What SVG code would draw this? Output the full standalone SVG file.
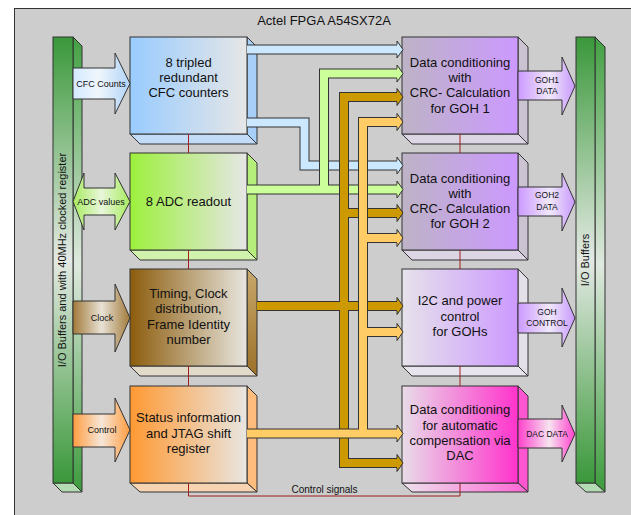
<svg xmlns="http://www.w3.org/2000/svg" width="631" height="515" viewBox="0 0 631 515">
<defs>
<linearGradient id="gBar" x1="0" y1="0" x2="0" y2="1"><stop offset="0" stop-color="#3a983a"/><stop offset="0.5" stop-color="#e4e9e4"/><stop offset="1" stop-color="#3a983a"/></linearGradient>
<linearGradient id="gBarS" x1="0" y1="0" x2="0" y2="1"><stop offset="0" stop-color="#42a042"/><stop offset="0.5" stop-color="#dfe8df"/><stop offset="1" stop-color="#3c9c3c"/></linearGradient>
<linearGradient id="gCFC" x1="0" y1="0" x2="1" y2="0"><stop offset="0" stop-color="#99ccff"/><stop offset="1" stop-color="#e6e6e6"/></linearGradient>
<linearGradient id="gADC" x1="0" y1="0" x2="1" y2="0"><stop offset="0" stop-color="#9cf03c"/><stop offset="1" stop-color="#e6e6e6"/></linearGradient>
<linearGradient id="gTim" x1="0" y1="0" x2="1" y2="0"><stop offset="0" stop-color="#8c5c0c"/><stop offset="1" stop-color="#e8e6e0"/></linearGradient>
<linearGradient id="gSta" x1="0" y1="0" x2="1" y2="0"><stop offset="0" stop-color="#ff9933"/><stop offset="1" stop-color="#e8e6e2"/></linearGradient>
<linearGradient id="gGOH" x1="0" y1="0" x2="1" y2="0"><stop offset="0" stop-color="#bdb3c6"/><stop offset="1" stop-color="#cc99ff"/></linearGradient>
<linearGradient id="gI2C" x1="0" y1="0" x2="1" y2="0"><stop offset="0" stop-color="#e6e2ea"/><stop offset="1" stop-color="#cc99ff"/></linearGradient>
<linearGradient id="gDAC" x1="0" y1="0" x2="1" y2="0"><stop offset="0" stop-color="#e8dce8"/><stop offset="1" stop-color="#ff33cc"/></linearGradient>
<linearGradient id="gDACb" x1="0" y1="0" x2="1" y2="0"><stop offset="0" stop-color="#ece2ec"/><stop offset="1" stop-color="#ff66d6"/></linearGradient>
<linearGradient id="gTimS" x1="0" y1="0" x2="0" y2="1"><stop offset="0" stop-color="#c8a86c"/><stop offset="1" stop-color="#9c7028"/></linearGradient>
<linearGradient id="aBlue" x1="0" y1="0" x2="1" y2="0"><stop offset="0" stop-color="#d4eaff"/><stop offset="0.45" stop-color="#f0f6fc"/><stop offset="1" stop-color="#b0d4f8"/></linearGradient>
<linearGradient id="aGreen" x1="0" y1="0" x2="1" y2="0"><stop offset="0" stop-color="#a8ec60"/><stop offset="0.5" stop-color="#e8f6da"/><stop offset="1" stop-color="#a8ec60"/></linearGradient>
<linearGradient id="aBrown" x1="0" y1="0" x2="1" y2="0"><stop offset="0" stop-color="#a27a3a"/><stop offset="0.5" stop-color="#e8e2d6"/><stop offset="1" stop-color="#a27a3a"/></linearGradient>
<linearGradient id="aOrange" x1="0" y1="0" x2="1" y2="0"><stop offset="0" stop-color="#ff9d40"/><stop offset="0.5" stop-color="#f6e6d8"/><stop offset="1" stop-color="#ff9d40"/></linearGradient>
<linearGradient id="aPurple" x1="0" y1="0" x2="1" y2="0"><stop offset="0" stop-color="#cc99ff"/><stop offset="0.55" stop-color="#f0e8fa"/><stop offset="1" stop-color="#c899fc"/></linearGradient>
<linearGradient id="aPink" x1="0" y1="0" x2="1" y2="0"><stop offset="0" stop-color="#ff40cc"/><stop offset="0.55" stop-color="#f6e4f0"/><stop offset="1" stop-color="#ff40cc"/></linearGradient>
</defs>
<style>
.ln{stroke:#333;stroke-width:1;stroke-linejoin:miter}
text{font-family:"Liberation Sans",Arial,sans-serif;fill:#111}
.bt{font-size:13px;text-anchor:middle}
.lt{font-size:9px;text-anchor:middle}
.rt{font-size:8.5px;text-anchor:middle}
.bo{fill:none;stroke:#333;stroke-width:10;stroke-linejoin:miter;stroke-linecap:butt}
.bf{fill:none;stroke-width:8;stroke-linejoin:miter;stroke-linecap:butt}
.red{fill:none;stroke:#a01e1e;stroke-width:1}
</style>
<rect x="14.5" y="8.5" width="640" height="520" fill="#cdcdcd" stroke="#333"/>
<text x="324" y="25" style="font-size:13px;text-anchor:middle">Actel FPGA A54SX72A</text>

<g id="left-io-bar">
<polygon class="ln" points="73,37 82,46 82,492 73,483" fill="url(#gBarS)"/>
<polygon class="ln" points="53,483 73,483 82,492 62,492" fill="#b4dcb4"/>
<rect class="ln" x="53" y="37" width="20" height="446" fill="url(#gBar)"/>
<text transform="translate(66,260) rotate(-90)" style="font-size:11px;text-anchor:middle">I/O Buffers and with 40MHz clocked register</text>
</g>
<g id="right-io-bar">
<polygon class="ln" points="595,37 605,47 605,492 595,483" fill="url(#gBarS)"/>
<polygon class="ln" points="576,483 595,483 605,492 586,492" fill="#b4dcb4"/>
<rect class="ln" x="576" y="37" width="19" height="446" fill="url(#gBar)"/>
<text transform="translate(589,260) rotate(-90)" style="font-size:11px;text-anchor:middle">I/O Buffers</text>
</g>

<g id="cfc-counters">
<polygon class="ln" points="247,37 257,47 257,144 247,134" fill="#a8cff8"/>
<polygon class="ln" points="130,134 247,134 257,144 140,144" fill="#c2dcf8"/>
<rect class="ln" x="130" y="37" width="117" height="97" fill="url(#gCFC)"/>
<text class="bt" x="188.5" y="67">8 tripled</text>
<text class="bt" x="188.5" y="82">redundant</text>
<text class="bt" x="188.5" y="97">CFC counters</text>
</g>
<g id="adc-readout">
<polygon class="ln" points="247,153 257,163 257,260 247,250" fill="#b6ee7c"/>
<polygon class="ln" points="130,250 247,250 257,260 140,260" fill="#d0f2ac"/>
<rect class="ln" x="130" y="153" width="117" height="97" fill="url(#gADC)"/>
<text class="bt" x="188.5" y="206">8 ADC readout</text>
</g>
<g id="timing">
<polygon class="ln" points="247,269 257,279 257,376 247,366" fill="url(#gTimS)"/>
<polygon class="ln" points="130,366 247,366 257,376 140,376" fill="#e2dac8"/>
<rect class="ln" x="130" y="269" width="117" height="97" fill="url(#gTim)"/>
<text class="bt" x="188.5" y="298">Timing, Clock</text>
<text class="bt" x="188.5" y="313">distribution,</text>
<text class="bt" x="188.5" y="329">Frame Identity</text>
<text class="bt" x="188.5" y="344">number</text>
</g>
<g id="status">
<polygon class="ln" points="247,386 257,396 257,492 247,483" fill="#ffbc7c"/>
<polygon class="ln" points="130,483 247,483 257,492 140,492" fill="#f6d4b2"/>
<rect class="ln" x="130" y="386" width="117" height="97" fill="url(#gSta)"/>
<text class="bt" x="188.5" y="422">Status information</text>
<text class="bt" x="188.5" y="438">and JTAG shift</text>
<text class="bt" x="188.5" y="453">register</text>
</g>

<g id="goh1">
<polygon class="ln" points="518,37 528,47 528,144 518,134" fill="#cbc3d1"/>
<polygon class="ln" points="402,134 518,134 528,144 412,144" fill="#dcd5e3"/>
<rect class="ln" x="402" y="37" width="116" height="97" fill="url(#gGOH)"/>
<text class="bt" x="460" y="67">Data conditioning</text>
<text class="bt" x="460" y="82">with</text>
<text class="bt" x="460" y="97">CRC- Calculation</text>
<text class="bt" x="460" y="113">for GOH 1</text>
</g>
<g id="goh2">
<polygon class="ln" points="518,153 528,163 528,260 518,250" fill="#cbc3d1"/>
<polygon class="ln" points="402,250 518,250 528,260 412,260" fill="#dcd5e3"/>
<rect class="ln" x="402" y="153" width="116" height="97" fill="url(#gGOH)"/>
<text class="bt" x="460" y="183">Data conditioning</text>
<text class="bt" x="460" y="198">with</text>
<text class="bt" x="460" y="213">CRC- Calculation</text>
<text class="bt" x="460" y="228">for GOH 2</text>
</g>
<g id="i2c">
<polygon class="ln" points="518,269 528,279 528,376 518,366" fill="#e4e0ea"/>
<polygon class="ln" points="402,366 518,366 528,376 412,376" fill="#e8e4ee"/>
<rect class="ln" x="402" y="269" width="116" height="97" fill="url(#gI2C)"/>
<text class="bt" x="460" y="305">I2C and power</text>
<text class="bt" x="460" y="321">control</text>
<text class="bt" x="460" y="336">for GOHs</text>
</g>
<g id="dac">
<polygon class="ln" points="518,386 528,396 528,492 518,483" fill="#ff55d0"/>
<polygon class="ln" points="402,483 518,483 528,492 412,492" fill="url(#gDACb)"/>
<rect class="ln" x="402" y="386" width="116" height="97" fill="url(#gDAC)"/>
<text class="bt" x="460" y="414">Data conditioning</text>
<text class="bt" x="460" y="430">for automatic</text>
<text class="bt" x="460" y="445">compensation via</text>
<text class="bt" x="460" y="460">DAC</text>
</g>

<g id="connectors">
<path class="bo" d="M247,49.5 H398 M247,122.5 H304.5 V165.5 H398"/>
<path class="bf" stroke="#cce8ff" d="M247,49.5 H398 M247,122.5 H304.5 V165.5 H398"/>
<path class="ln" fill="#cce8ff" d="M397,44.5 V41 L403,49.5 L397,58 V54.5"/>
<path class="ln" fill="#cce8ff" d="M397,160.5 V157 L403,165.5 L397,174 V170.5"/>
<path class="bo" d="M247,189.5 H398 M324,189.5 V73.5 H398"/>
<path class="bf" stroke="#ccff99" d="M247,189.5 H398 M324,189.5 V73.5 H398"/>
<path class="ln" fill="#ccff99" d="M397,68.5 V65 L403,73.5 L397,82 V78.5"/>
<path class="ln" fill="#ccff99" d="M397,184.5 V181 L403,189.5 L397,198 V194.5"/>
<path class="bo" d="M257,306 H398 M398,97 H344 V463 H398 M344,213 H398"/>
<path class="bf" stroke="#cc9900" d="M257,306 H398 M398,97 H344 V463 H398 M344,213 H398"/>
<path class="ln" fill="#cc9900" d="M397,92 V88.5 L403,97 L397,105.5 V102"/>
<path class="ln" fill="#cc9900" d="M397,208 V204.5 L403,213 L397,221.5 V218"/>
<path class="ln" fill="#cc9900" d="M397,301 V297.5 L403,306 L397,314.5 V311"/>
<path class="ln" fill="#cc9900" d="M397,458 V454.5 L403,463 L397,471.5 V468"/>
<path class="bo" d="M398,122 H363 V433.5 M247,433.5 H398 M363,238 H398 M363,332 H398"/>
<path class="bf" stroke="#ffcc66" d="M398,122 H363 V433.5 M247,433.5 H398 M363,238 H398 M363,332 H398"/>
<path class="ln" fill="#ffcc66" d="M397,117 V113.5 L403,122 L397,130.5 V127"/>
<path class="ln" fill="#ffcc66" d="M397,233 V229.5 L403,238 L397,246.5 V243"/>
<path class="ln" fill="#ffcc66" d="M397,327 V323.5 L403,332 L397,340.5 V337"/>
<path class="ln" fill="#ffcc66" d="M397,428.5 V425 L403,433.5 L397,442 V438.5"/>
<path class="red" d="M188.5,134 V153 M188.5,250 V269 M188.5,366 V386 M460,134 V153 M460,250 V269 M460,366 V386 M188.5,483 V496 H460 V483"/>
<text x="324.5" y="493" style="font-size:10px;text-anchor:middle">Control signals</text>
</g>

<g id="arrow-cfc-counts">
<polygon class="ln" points="73,68 115,68 115,53 130,83.5 115,114 115,99 73,99" fill="url(#aBlue)"/>
<text class="lt" x="101" y="86.5">CFC Counts</text>
</g>
<g id="arrow-adc-values">
<polygon class="ln" points="73,201.5 84,173 84,188 115,188 115,173 130,201.5 115,230 115,215 84,215 84,230" fill="url(#aGreen)"/>
<text class="lt" x="101" y="204.5">ADC values</text>
</g>
<g id="arrow-clock">
<polygon class="ln" points="73,301 115,301 115,284 130,318 115,352 115,334 73,334" fill="url(#aBrown)"/>
<text class="lt" x="102" y="320.5">Clock</text>
</g>
<g id="arrow-control">
<polygon class="ln" points="73,414 115,414 115,398 130,430 115,462 115,447 73,447" fill="url(#aOrange)"/>
<text class="lt" x="102" y="432.5">Control</text>
</g>
<g id="arrow-goh1-data">
<polygon class="ln" points="518,71 562,71 562,57 575,86 562,115 562,100 518,100" fill="url(#aPurple)"/>
<text class="rt" x="547" y="83">GOH1</text>
<text class="rt" x="547" y="94">DATA</text>
</g>
<g id="arrow-goh2-data">
<polygon class="ln" points="518,187 562,187 562,173 575,202 562,231 562,216 518,216" fill="url(#aPurple)"/>
<text class="rt" x="547" y="198">GOH2</text>
<text class="rt" x="547" y="210">DATA</text>
</g>
<g id="arrow-goh-control">
<polygon class="ln" points="518,303 562,303 562,288 575,318 562,347 562,333 518,333" fill="url(#aPurple)"/>
<text class="rt" x="547" y="315">GOH</text>
<text class="rt" x="547" y="326">CONTROL</text>
</g>
<g id="arrow-dac-data">
<polygon class="ln" points="518,419 562,419 562,405 575,434 562,462 562,448 518,448" fill="url(#aPink)"/>
<text class="rt" x="547" y="437">DAC DATA</text>
</g>
</svg>
